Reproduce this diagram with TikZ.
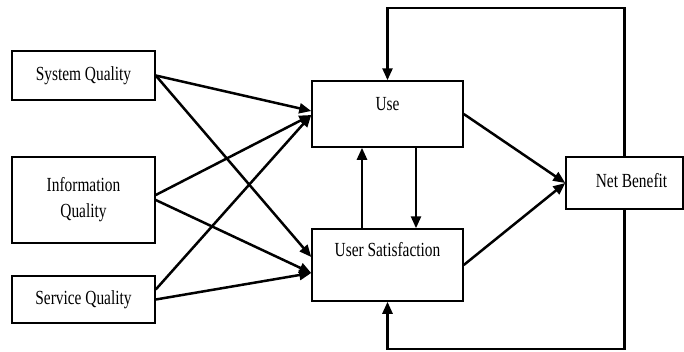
\documentclass[tikz,border=0pt]{standalone}
\usepackage{fontspec}
\setmainfont[FakeStretch=0.77]{Liberation Serif}
\usetikzlibrary{arrows.meta}

\begin{document}
\begin{tikzpicture}[x=1pt, y=-1pt, font=\fontsize{20}{26}\selectfont,
    box/.style={draw, line width=1.5pt, inner sep=0pt, align=center},
    link/.style={line width=2.5pt, -{Triangle[length=12pt, width=10pt]}}]
  \useasboundingbox (0,0) rectangle (684,351);
  % quality boxes on the left
  \node[box, minimum width=143pt, minimum height=49pt] (sysq) at (83.5,75.5) {System Quality};
  \node[box, minimum width=143pt, minimum height=86pt] (infoq) at (83.5,200) {Information\\Quality};
  \node[box, minimum width=143pt, minimum height=47pt] (servq) at (83.5,299.5) {Service Quality};
  % middle and right boxes
  \node[box, minimum width=151pt, minimum height=66pt,
        label={[name=uselbl, below=17pt, inner sep=0pt]north:Use}] (use) at (387.5,114) {};
  \node[box, minimum width=151pt, minimum height=72pt,
        label={[name=satlbl, below=14pt, inner sep=0pt]north:User Satisfaction}] (sat) at (387.5,265) {};
  \node[box, minimum width=117pt, minimum height=52pt,
        label={[name=nblbl, xshift=7pt, yshift=2pt]center:Net Benefit}] (nb) at (624.5,183) {};
  \coordinate (topleft) at (387.5,8);
  \coordinate (topright) at (624.5,8);
  \coordinate (botleft) at (387.5,349);
  \coordinate (botright) at (624.5,349);

  \draw[link] (sysq.east) -- ([yshift=3pt]use.west);
  \draw[link] (sysq.east) -- ([yshift=8pt]sat.west);
  \draw[link] ([yshift=5pt]infoq.east) -- ([yshift=-1pt]use.west);
  \draw[link] (infoq.east) -- ([yshift=-8pt]sat.west);
  \draw[link] ([yshift=10pt]servq.east) -- ([yshift=-1pt]use.west);
  \draw[link] (servq.east) -- ([yshift=-8pt]sat.west);

  \draw[link] ([xshift=-25.5pt]sat.north) -- ([xshift=-25.5pt]use.south);
  \draw[link] ([xshift=28.5pt]use.south) -- ([xshift=28.5pt]sat.north);

  \draw[link] (use.east) -- (nb.west);
  \draw[link] (sat.east) -- (nb.west);

  \draw[link] (nb.north) -- (topright) -- (topleft) -- (use.north);
  \draw[link] (nb.south) -- (botright) -- (botleft) -- (sat.south);
\end{tikzpicture}
\end{document}
